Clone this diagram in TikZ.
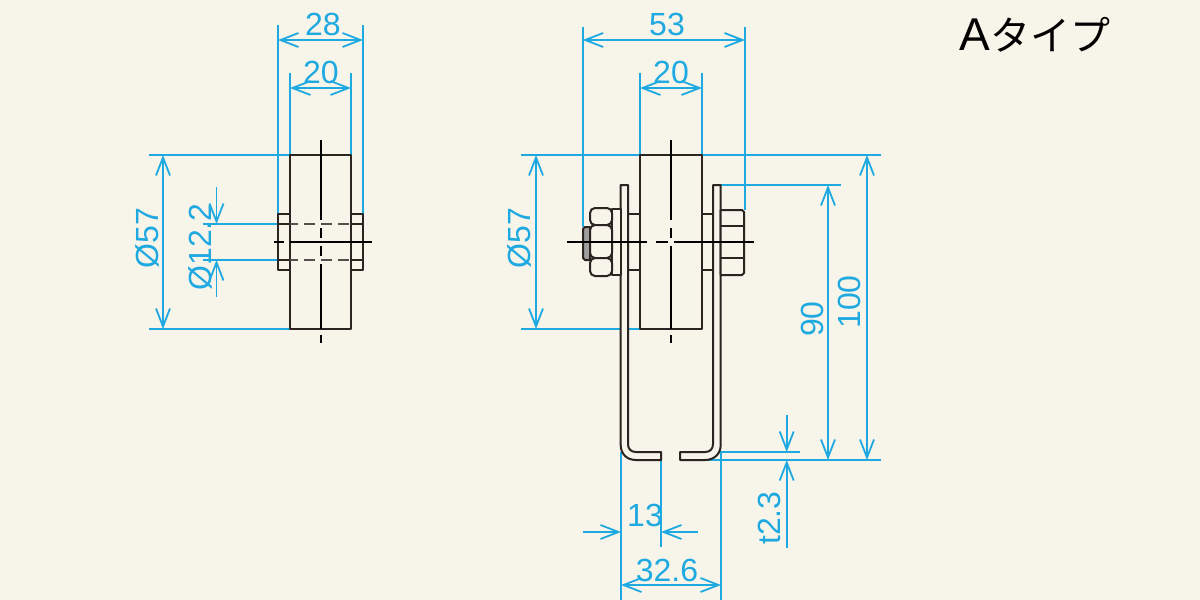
\documentclass[tikz,border=0pt]{standalone}
\usepackage{fontspec}
\setmainfont{Liberation Sans}
\newfontfamily\jpfont{Noto Sans CJK JP}
\usetikzlibrary{arrows.meta}
\definecolor{bgc}{HTML}{F7F4EA}
\definecolor{dimc}{HTML}{1FA9E1}
\definecolor{inkc}{HTML}{2B2420}
\tikzset{
  barb/.tip={Straight Barb[length=9pt,width=7pt,line width=.9pt]},
  ext/.style={draw=dimc,line width=.95pt},
  dimline/.style={draw=dimc,line width=.95pt,arrows={barb-barb}},
  dimone/.style={draw=dimc,line width=.95pt,arrows={-barb}},
  dimtext/.style={text=dimc,font=\fontsize{16}{16}\selectfont,inner sep=0pt},
  part/.style={draw=inkc,line width=1pt,line join=round},
  axis/.style={draw=black,line width=.85pt},
  hidden/.style={draw=inkc!80,line width=1pt,dash pattern=on 5.5pt off 3pt},
}
\begin{document}
\begin{tikzpicture}[x=0.5pt,y=-0.5pt]
\path[use as bounding box,fill=bgc] (0,0) rectangle (1200,600);
% ---- extension lines, left view
\draw[ext] (278,25)--(278,214) (363,25)--(363,214);
\draw[ext] (290,73)--(290,155) (351,73)--(351,155);
\draw[ext] (149,155)--(290,155) (149,329)--(290,329);
\draw[ext] (203,224)--(278,224) (203,260)--(278,260);
% ---- dimensions, left view
\draw[dimline] (278,40)--(363,40);
\draw[dimline] (290,88)--(351,88);
\draw[dimline] (163,155)--(163,329);
\draw[dimone] (216.5,187)--(216.5,224);
\draw[dimone] (216.5,297)--(216.5,260);
\node[dimtext] (L28) at (323,24) {28};
\node[dimtext] (L20) at (321,72) {20};
\node[dimtext,rotate=90] (L57) at (147,238) {Ø57};
\node[dimtext,rotate=90] (L12) at (200,247) {Ø12.2};
% ---- left view
\draw[part] (278,214) rectangle (363,270);
\draw[part,fill=bgc] (290,155) rectangle (351,329);
\draw[hidden] (287,224)--(363,224) (287,260)--(363,260);
\draw[part] (351,224)--(363,224) (351,260)--(363,260);
\draw[part] (278,224)--(290,224) (278,260)--(290,260);
\draw[axis] (321,140)--(321,220) (321,228)--(321,238) (321,246)--(321,256) (321,264)--(321,329) (321,335)--(321,343);
\draw[axis] (274,242)--(284,242) (290,242)--(372,242);
% ---- extension lines, right view
\draw[ext] (582.7,27)--(582.7,227) (745,27)--(745,210);
\draw[ext] (640,73)--(640,155) (702,73)--(702,155);
\draw[ext] (521,155)--(881,155) (521,329)--(640,329);
\draw[ext] (720,185)--(841,185);
\draw[ext] (707,460)--(881,460);
\draw[ext] (713,452)--(800,452);
\draw[ext] (621,452)--(621,600) (721,452)--(721,600);
\draw[ext] (661,460)--(661,547);
% ---- dimensions, right view
\draw[dimline] (582.7,40)--(745,40);
\draw[dimline] (640,88)--(702,88);
\draw[dimline] (536,155)--(536,329);
\draw[dimline] (828,185)--(828,460);
\draw[dimline] (867,155)--(867,460);
\draw[dimone] (786.7,415)--(786.7,452);
\draw[dimone] (786.7,548)--(786.7,460);
\draw[dimone] (583,532)--(621,532);
\draw[dimone] (698,532)--(661,532);
\draw[dimline] (621,585)--(721,585);
\node[dimtext] (R53) at (667,24) {53};
\node[dimtext] (R20) at (671,72) {20};
\node[dimtext,rotate=90] (R57) at (519,238) {Ø57};
\node[dimtext,rotate=90] (R90) at (812,319) {90};
\node[dimtext,rotate=90] (R100) at (849,302) {100};
\node[dimtext,rotate=90] (Rt) at (769,518) {t2.3};
\node[dimtext] (R13) at (645,515) {13};
\node[dimtext] (R326) at (667,570) {32.6};
% ---- right view: wheel, spacers
\draw[part,fill=bgc] (640,155) rectangle (702,329);
\draw[part] (628,214) rectangle (640,270);
\draw[part] (702,214) rectangle (713,270);
% brackets
\draw[part,fill=bgc] (620.7,185)--(628,185)--(628,444) .. controls (628,449) and (631,452) .. (636,452)--(661,452)--(661,460)--(636,460) .. controls (627,460) and (620.7,454) .. (620.7,445)--cycle;
\draw[part,fill=bgc] (713,185)--(720.7,185)--(720.7,445) .. controls (720.7,454) and (714,460) .. (705,460)--(680,460)--(680,452)--(705,452) .. controls (710,452) and (713,449) .. (713,444)--cycle;
% bolt head, right
\draw[part,fill=bgc] (720.7,210)--(742,210)--(744,212)--(744,273)--(742,275)--(720.7,275)--cycle;
\draw[part] (720.7,226)--(744,226) (720.7,258)--(744,258);
% washer, left
\draw[part,fill=bgc] (612,209) rectangle (620.7,275);
% bolt end
\draw[part,fill=gray!75] (583,229)--(585,227)--(590,227)--(590,260)--(585,260)--(583,258)--cycle;
% nut
\draw[part,fill=bgc,rounded corners=2.5pt] (590,208) rectangle (612,225);
\draw[part,fill=bgc,rounded corners=2.5pt] (590,225) rectangle (612,258);
\draw[part,fill=bgc,rounded corners=2.5pt] (590,258) rectangle (612,276);
% axes
\draw[axis] (671,140)--(671,220) (671,228)--(671,238) (671,246)--(671,329) (671,335)--(671,343);
\draw[axis] (567,242)--(647,242) (656,242)--(668,242) (674,242)--(754,242);
% title
\node[inner sep=0pt,anchor=base west,text=black] (title) at (959,50) {\fontsize{23}{23}\selectfont A\fontsize{20}{20}\selectfont\jpfont タイプ};
\end{tikzpicture}
\end{document}
